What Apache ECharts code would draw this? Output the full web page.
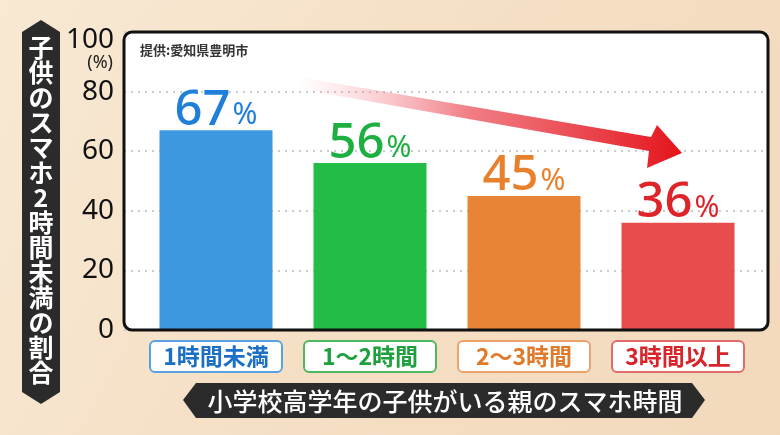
<!DOCTYPE html>
<html>
<head>
<meta charset="utf-8">
<script src="https://cdn.jsdelivr.net/npm/echarts@6/dist/echarts.min.js"></script>
<style>
  html, body { margin: 0; padding: 0; }
  #main { width: 780px; height: 435px; }
</style>
</head>
<body>
<div id="main"></div>
<script>
  // データ
  const categories = ['1時間未満', '1〜2時間', '2〜3時間', '3時間以上'];
  const values = [67, 56, 45, 36];
  const yTicks = [0, 20, 40, 60, 80, 100];
  const barColors = ['#3d98e0', '#22bd47', '#e88436', '#e84c4c'];
  const valueColors = ['#1f7fd9', '#1daf40', '#e8802c', '#de2329'];
  const boxBorders = ['#5aa2df', '#4cb962', '#eda26b', '#e06b6b'];
  const boxText = ['#1b6fc4', '#1ea03c', '#e07a2a', '#d7252b'];
  const yTitle = '子供のスマホ2時間未満の割合';
  const xTitle = '小学校高学年の子供がいる親のスマホ時間';
  const source = '提供:愛知県豊明市';

  const JP = '"Noto Sans CJK JP", "Noto Sans", sans-serif';
  const NUM = '"Noto Sans", "Liberation Sans", sans-serif';

  let chart = echarts.init(document.getElementById('main'));

  // カテゴリ枠のrich
  const catRich = {};
  categories.forEach(function (c, i) {
    catRich['c' + i] = {
      width: 130,
      height: 29,
      align: 'center',
      verticalAlign: 'middle',
      fontSize: 23,
      fontFamily: JP,
      fontWeight: 'bold',
      color: boxText[i],
      backgroundColor: '#ffffff',
      borderColor: boxBorders[i],
      borderWidth: 2,
      borderRadius: 4
    };
  });

  const option = {
    backgroundColor: new echarts.graphic.LinearGradient(0, 0, 1, 1, [
      { offset: 0, color: '#f8e9d4' },
      { offset: 0.5, color: '#f5dfc4' },
      { offset: 1, color: '#f2d9bc' }
    ]),
    animation: false,
    grid: [
      { left: 124, top: 32, width: 644, height: 298 },
      { left: 139, top: 32, width: 616, height: 298 }
    ],
    xAxis: [
      { gridIndex: 0, type: 'value', min: 0, max: 1, show: false },
      {
        gridIndex: 1,
        type: 'category',
        data: categories,
        axisLine: { show: false },
        axisTick: { show: false },
        axisLabel: {
          margin: 12,
          formatter: function (v, i) { return '{c' + i + '|' + v + '}'; },
          rich: catRich
        }
      }
    ],
    yAxis: [
      {
        gridIndex: 0,
        type: 'value',
        min: 0,
        max: 100,
        interval: 20,
        name: '(%)',
        nameLocation: 'end',
        nameGap: -31,
        nameTextStyle: {
          align: 'right',
          verticalAlign: 'middle',
          fontSize: 18,
          fontFamily: NUM,
          color: '#222',
          padding: [0, 11, 0, 0]
        },
        axisLine: { show: false },
        axisTick: { show: false },
        axisLabel: {
          margin: 10,
          fontSize: 28,
          fontFamily: NUM,
          color: '#111',
          customValues: yTicks,
          formatter: function (v) { return v === 100 ? '{t|100}' : String(v); },
          rich: { t: { fontSize: 28, fontFamily: NUM, color: '#111', padding: [16, 0, 0, 0] } }
        },
        splitLine: {
          show: true,
          lineStyle: { color: '#c8ccd0', width: 2, type: [2, 5] }
        }
      },
      { gridIndex: 1, type: 'value', min: 0, max: 100, show: false }
    ],
    series: [
      {
        type: 'bar',
        xAxisIndex: 1,
        yAxisIndex: 1,
        barWidth: 113,
        z: 5,
        data: values.map(function (v, i) {
          return {
            value: v,
            itemStyle: { color: barColors[i] },
            label: {
              show: true,
              position: 'top',
              distance: -5,
              formatter: '{n|{c}}{p|%}',
              rich: {
                n: { fontSize: 49, fontFamily: NUM, fontWeight: 500, color: valueColors[i] },
                p: { fontSize: 30, fontFamily: NUM, color: valueColors[i], padding: [10, 0, 0, 2] }
              }
            }
          };
        })
      }
    ],
    graphic: [
      // 白い枠
      {
        type: 'rect', z: -10,
        shape: { x: 124, y: 32, width: 644, height: 298, r: 8 },
        style: { fill: '#ffffff' }
      },
      {
        type: 'rect', z: 100,
        shape: { x: 124, y: 32, width: 644, height: 298, r: 8 },
        style: { fill: 'none', stroke: '#111', lineWidth: 3 }
      },
      {
        type: 'text', z: 100, left: 140, top: 44,
        style: { text: source, fontSize: 13, fontWeight: 'bold', fontFamily: JP, fill: '#333' }
      },
      // 矢印
      {
        type: 'polygon', z: 50,
        shape: {
          points: [[298, 77], [651, 137], [657, 125], [682, 153], [647, 168], [649, 151], [300, 89]]
        },
        style: {
          fill: new echarts.graphic.LinearGradient(0, 0, 1, 0, [
            { offset: 0, color: 'rgba(245,150,160,0)' },
            { offset: 0.45, color: 'rgba(236,80,90,0.75)' },
            { offset: 1, color: '#e4131b' }
          ])
        }
      },
      // 縦タイトル
      {
        type: 'polygon', z: 60,
        shape: { points: [[22, 32], [41, 20], [60, 32], [60, 392], [41, 404], [22, 392]] },
        style: { fill: '#2b2b2b' }
      },
      {
        type: 'text', z: 61, x: 41, y: 210,
        style: {
          text: yTitle.split('').join('\n'),
          fontSize: 25,
          lineHeight: 25,
          fontWeight: 'bold',
          fontFamily: JP,
          fill: '#ffffff',
          align: 'center',
          verticalAlign: 'middle'
        }
      },
      // 横タイトル
      {
        type: 'polygon', z: 60,
        shape: { points: [[196, 383], [692, 383], [705, 400], [692, 418], [196, 418], [183, 400]] },
        style: { fill: '#2b2b2b' }
      },
      {
        type: 'text', z: 61, x: 445, y: 401,
        style: {
          text: xTitle,
          fontSize: 25,
          fontFamily: JP,
          fontWeight: 500,
          fill: '#ffffff',
          align: 'center',
          verticalAlign: 'middle'
        }
      }
    ]
  };
  chart.setOption(option);
</script>
</body>
</html>
